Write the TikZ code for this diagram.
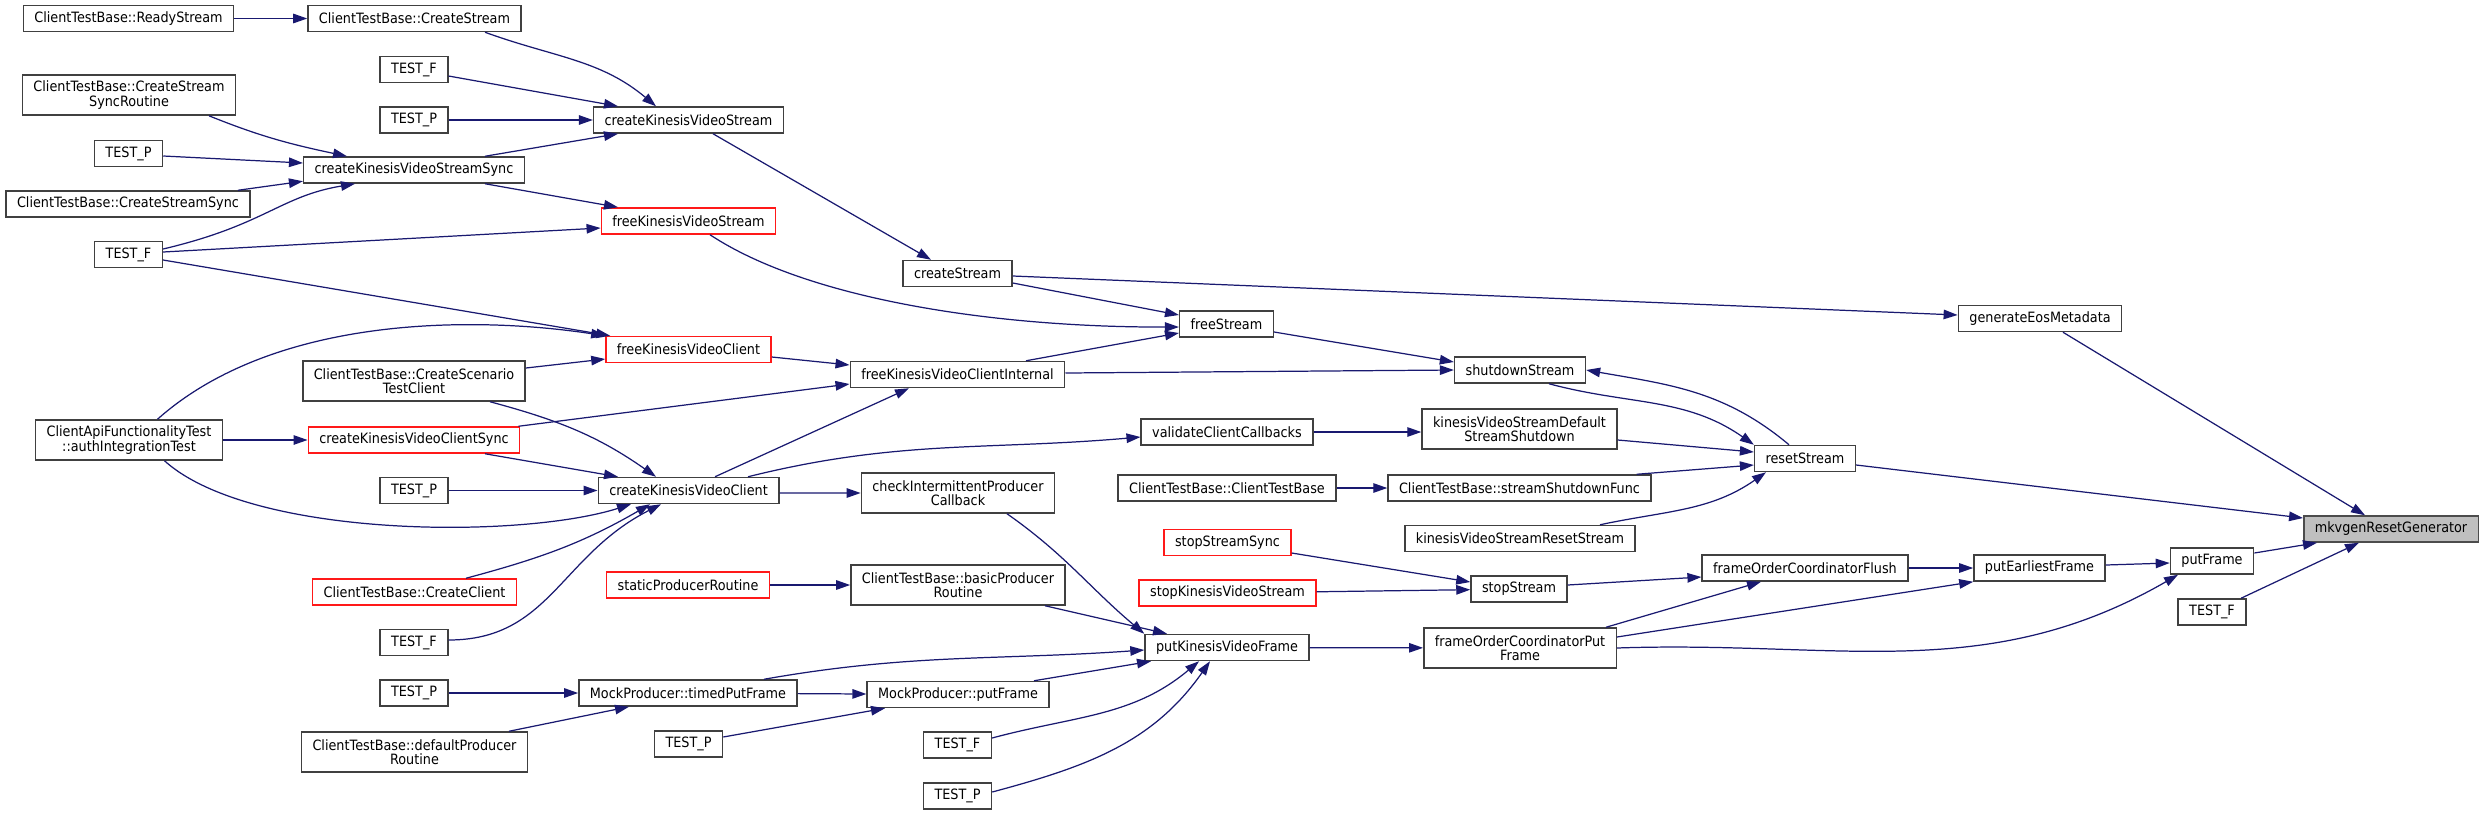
\documentclass[tikz,border=0pt]{standalone}
\usepackage{fontspec}
\setmainfont{DejaVu Sans}[FakeStretch=0.9]
\usepackage{xcolor}
\usepackage{tikz}
\usetikzlibrary{arrows.meta}
\definecolor{edgeblue}{HTML}{191970}

\begin{document}
\begin{tikzpicture}[
    box/.style={draw=black!75, fill=white, line width=0.85pt, font={\fontsize{8.1}{8.3}\selectfont}, align=center, inner xsep=0.22cm, minimum height=0.52cm},
    twobox/.style={box, minimum height=0.80cm},
    truncbox/.style={box, draw=red!90},
    rootbox/.style={box, fill=black!25, draw=black!70},
    arrow/.style={-{Triangle[length=0.28cm, width=0.19cm]}, edgeblue, line width=0.7pt}
]
    \useasboundingbox (0, 0) rectangle (49.70, -16.30);

    % Column 1: outermost callers.
    \node[box] (readystream) at (2.57, -0.37) {ClientTestBase::ReadyStream};
    \node[twobox] (syncroutine) at (2.58, -1.90) {ClientTestBase::CreateStream\\SyncRoutine};
    \node[box] (testpb) at (2.57, -3.07) {TEST\_P};
    \node[box] (streamsync) at (2.56, -4.08) {ClientTestBase::CreateStreamSync};
    \node[box] (testfb) at (2.57, -5.09) {TEST\_F};
    \node[twobox] (authtest) at (2.58, -8.80) {ClientApiFunctionalityTest\\::authIntegrationTest};

    % Column 2.
    \node[box] (tbcreatestream) at (8.29, -0.37) {ClientTestBase::CreateStream};
    \node[box] (testfa) at (8.28, -1.39) {TEST\_F};
    \node[box] (testpa) at (8.28, -2.40) {TEST\_P};
    \node[box] (createstreamsync) at (8.28, -3.40) {createKinesisVideoStreamSync};
    \node[twobox] (scenario) at (8.28, -7.62) {ClientTestBase::CreateScenario\\TestClient};
    \node[truncbox] (createclientsync) at (8.28, -8.80) {createKinesisVideoClientSync};
    \node[box] (testpc) at (8.28, -9.81) {TEST\_P};
    \node[truncbox] (tbcreateclient) at (8.29, -11.84) {ClientTestBase::CreateClient};
    \node[box] (testfc) at (8.28, -12.85) {TEST\_F};
    \node[box] (testpd) at (8.28, -13.86) {TEST\_P};
    \node[twobox] (defaultproducer) at (8.29, -15.04) {ClientTestBase::defaultProducer\\Routine};

    % Column 3.
    \node[box] (createvideostream) at (13.77, -2.40) {createKinesisVideoStream};
    \node[truncbox] (freevideostream) at (13.77, -4.42) {freeKinesisVideoStream};
    \node[truncbox] (freevideoclient) at (13.77, -6.99) {freeKinesisVideoClient};
    \node[box] (createvideoclient) at (13.77, -9.81) {createKinesisVideoClient};
    \node[truncbox] (staticproducer) at (13.76, -11.70) {staticProducerRoutine};
    \node[box] (timedputframe) at (13.76, -13.86) {MockProducer::timedPutFrame};
    \node[box] (testpe) at (13.77, -14.88) {TEST\_P};

    % Column 4.
    \node[box] (createstream) at (19.15, -5.47) {createStream};
    \node[box] (freeclientinternal) at (19.15, -7.49) {freeKinesisVideoClientInternal};
    \node[twobox] (checkproducer) at (19.16, -9.86) {checkIntermittentProducer\\Callback};
    \node[twobox] (basicproducer) at (19.16, -11.70) {ClientTestBase::basicProducer\\Routine};
    \node[box] (mockputframe) at (19.16, -13.89) {MockProducer::putFrame};
    \node[box] (testfd) at (19.15, -14.90) {TEST\_F};
    \node[box] (testpf) at (19.15, -15.92) {TEST\_P};

    % Column 5.
    \node[box] (freestream) at (24.53, -6.48) {freeStream};
    \node[box] (validatecallbacks) at (24.54, -8.64) {validateClientCallbacks};
    \node[box] (testbasector) at (24.54, -9.76) {ClientTestBase::ClientTestBase};
    \node[truncbox] (stopstreamsync) at (24.55, -10.85) {stopStreamSync};
    \node[truncbox] (stopvideostream) at (24.55, -11.86) {stopKinesisVideoStream};
    \node[box] (putvideoframe) at (24.54, -12.95) {putKinesisVideoFrame};

    % Column 6.
    \node[box] (shutdownstream) at (30.40, -7.40) {shutdownStream};
    \node[twobox] (defaultshutdown) at (30.39, -8.58) {kinesisVideoStreamDefault\\StreamShutdown};
    \node[box] (shutdownfunc) at (30.39, -9.76) {ClientTestBase::streamShutdownFunc};
    \node[box] (videoresetstream) at (30.40, -10.77) {kinesisVideoStreamResetStream};
    \node[box] (stopstream) at (30.38, -11.78) {stopStream};
    \node[twobox] (coordputframe) at (30.40, -12.96) {frameOrderCoordinatorPut\\Frame};

    % Columns 7 to 10, down to the root.
    \node[box] (resetstream) at (36.10, -9.17) {resetStream};
    \node[box] (coordflush) at (36.10, -11.36) {frameOrderCoordinatorFlush};
    \node[box] (eosmetadata) at (40.80, -6.37) {generateEosMetadata};
    \node[box] (putearliest) at (40.79, -11.36) {putEarliestFrame};
    \node[box] (putframe) at (44.24, -11.22) {putFrame};
    \node[box] (testfe) at (44.24, -12.24) {TEST\_F};
    \node[rootbox] (resetgenerator) at (47.82, -10.58) {mkvgenResetGenerator};

    % Stream creation calls.
    \draw[arrow] (readystream) -- (tbcreatestream);
    \draw[arrow] ([xshift=1.41cm]tbcreatestream.south) to[out=-20, in=140] ([xshift=-0.65cm]createvideostream.north);
    \draw[arrow] ([yshift=-0.13cm]testfa.east) -- ([xshift=-1.41cm]createvideostream.north);
    \draw[arrow] (testpa) -- (createvideostream);
    \draw[arrow] ([xshift=1.42cm]createstreamsync.north) -- ([xshift=-1.41cm]createvideostream.south);
    \draw[arrow] ([xshift=1.60cm]syncroutine.south) to[out=-22, in=168] ([xshift=-1.34cm]createstreamsync.north);
    \draw[arrow] ([yshift=-0.05cm]testpb.east) -- ([yshift=0.14cm]createstreamsync.west);
    \draw[arrow] ([xshift=2.20cm]streamsync.north) -- ([yshift=0.05cm]createstreamsync.south west);
    \draw[arrow] ([yshift=0.11cm]testfb.east) .. controls +(2.04,0.48) and +(-1.50,-0.25) .. ([xshift=-1.18cm]createstreamsync.south);
    \draw[arrow] ([xshift=1.42cm]createstreamsync.south) -- ([xshift=-1.41cm]freevideostream.north);
    \draw[arrow] ([yshift=0.05cm]testfb.east) -- ([yshift=-0.14cm]freevideostream.west);
    \draw[arrow] ([yshift=-0.11cm]testfb.east) -- ([xshift=0.10cm]freevideoclient.north west);
    \draw[arrow] ([xshift=0.57cm]authtest.north) .. controls +(2.36,2.10) and +(-2.56,0.39) .. (freevideoclient.north west);
    \draw[arrow] ([yshift=0.26cm]scenario.east) -- ([yshift=-0.19cm]freevideoclient.west);
    \draw[arrow] ([xshift=0.49cm]createvideostream.south) -- ([xshift=-0.53cm]createstream.north);
    \draw[arrow] ([xshift=0.43cm]freevideostream.south) .. controls +(2.00,-1.32) and +(-3.58,-0.01) .. ([yshift=-0.06cm]freestream.west);
    \draw[arrow] ([yshift=-0.19cm]createstream.east) -- ([yshift=0.18cm]freestream.west);
    \draw[arrow] ([yshift=-0.05cm]createstream.east) -- ([yshift=0.07cm]eosmetadata.west);

    % Client creation and teardown calls.
    \draw[arrow] ([yshift=-0.15cm]freevideoclient.east) -- ([yshift=0.19cm]freeclientinternal.west);
    \draw[arrow] ([xshift=-0.04cm]createclientsync.north east) -- ([yshift=-0.19cm]freeclientinternal.west);
    \draw[arrow] ([xshift=0.53cm]createvideoclient.north) -- ([xshift=-0.97cm]freeclientinternal.south);
    \draw[arrow] ([xshift=1.37cm]freeclientinternal.north) -- ([yshift=-0.18cm]freestream.west);
    \draw[arrow] ([yshift=0.03cm]freeclientinternal.east) -- (shutdownstream.west);
    \draw[arrow] ([yshift=-0.16cm]freestream.east) -- ([yshift=0.16cm]shutdownstream.west);
    \draw[arrow] (authtest) -- (createclientsync);
    \draw[arrow] ([xshift=1.52cm]scenario.south) to[out=-15, in=145] ([xshift=-0.65cm]createvideoclient.north);
    \draw[arrow] ([xshift=1.42cm]createclientsync.south) -- ([xshift=-1.41cm]createvideoclient.north);
    \draw[arrow] (testpc) -- (createvideoclient);
    \draw[arrow] ([xshift=0.71cm]authtest.south) .. controls +(1.72,-1.55) and +(-2.22,-0.70) .. ([xshift=-1.15cm]createvideoclient.south);
    \draw[arrow] ([xshift=1.03cm]tbcreateclient.north) to[out=15, in=-150] ([xshift=-0.77cm]createvideoclient.south);
    \draw[arrow] ([yshift=0.05cm]testfc.east) .. controls +(2.02,0.00) and +(-2.02,-1.03) .. ([xshift=-0.55cm]createvideoclient.south);
    \draw[arrow] ([xshift=1.19cm]createvideoclient.north) to[out=14, in=185] ([yshift=-0.10cm]validatecallbacks.west);
    \draw[arrow] ([yshift=-0.05cm]createvideoclient.east) -- (checkproducer.west);

    % Shutdown and reset calls.
    \draw[arrow] (validatecallbacks.east) -- (validatecallbacks.east -| defaultshutdown.west);
    \draw[arrow] ([yshift=-0.22cm]defaultshutdown.east) -- ([yshift=0.13cm]resetstream.west);
    \draw[arrow] (testbasector) -- (shutdownfunc);
    \draw[arrow] ([xshift=-0.30cm]shutdownfunc.north east) -- ([yshift=-0.13cm]resetstream.west);
    \draw[arrow] ([xshift=1.60cm]videoresetstream.north) to[out=12, in=-145] ([xshift=-0.78cm]resetstream.south);
    \draw[arrow] ([xshift=0.58cm]shutdownstream.south) to[out=-15, in=145] (resetstream.north west);
    \draw[arrow] ([xshift=-0.32cm]resetstream.north) to[out=140, in=-10] (shutdownstream.east);
    \draw[arrow] ([yshift=-0.13cm]resetstream.east) -- ([yshift=0.22cm]resetgenerator.west);
    \draw[arrow] ([xshift=0.46cm]eosmetadata.south) -- ([xshift=-0.52cm]resetgenerator.north);
    \draw[arrow] ([yshift=0.16cm]putframe.east) -- ([xshift=-1.48cm]resetgenerator.south);
    \draw[arrow] ([xshift=0.58cm]testfe.north) -- ([xshift=-0.64cm]resetgenerator.south);

    % Frame producing calls.
    \draw[arrow] ([xshift=0.98cm]checkproducer.south) to[out=-35, in=140] (putvideoframe.north west);
    \draw[arrow] (staticproducer) -- (basicproducer);
    \draw[arrow] ([xshift=1.74cm]basicproducer.south) -- ([xshift=-1.20cm]putvideoframe.north);
    \draw[arrow] ([xshift=1.52cm]timedputframe.north) to[out=10, in=184] ([yshift=-0.05cm]putvideoframe.west);
    \draw[arrow] ([xshift=1.52cm]mockputframe.north) -- ([xshift=-1.52cm]putvideoframe.south);
    \draw[arrow] ([yshift=0.14cm]testfd.east) to[out=15, in=-140] ([xshift=-0.56cm]putvideoframe.south);
    \draw[arrow] ([yshift=0.08cm]testpf.east) to[out=15, in=-125] ([xshift=-0.34cm]putvideoframe.south);
    \draw[arrow] (testpd) -- (timedputframe);
    \draw[arrow] ([xshift=1.89cm]defaultproducer.north) -- ([xshift=-1.18cm]timedputframe.south);
    \draw[arrow] (timedputframe) -- (mockputframe);
    \draw[arrow] ([yshift=0.14cm]testpe.east) -- ([xshift=-1.46cm]mockputframe.south);
    \draw[arrow] (putvideoframe) -- (coordputframe);
    \draw[arrow] ([yshift=-0.21cm]stopstreamsync.east) -- ([yshift=0.14cm]stopstream.west);
    \draw[arrow] (stopvideostream) -- (stopstream);
    \draw[arrow] ([yshift=0.08cm]stopstream.east) -- ([yshift=-0.18cm]coordflush.west);
    \draw[arrow] ([xshift=1.72cm]coordputframe.north) -- ([xshift=-0.88cm]coordflush.south);
    \draw[arrow] (coordflush) -- (putearliest);
    \draw[arrow] ([yshift=0.22cm]coordputframe.east) -- (putearliest.south west);
    \draw[arrow] ([yshift=0.06cm]putearliest.east) -- ([yshift=-0.04cm]putframe.west);
    \draw[arrow] (coordputframe.east) to[out=2, in=-150] ([xshift=-0.68cm]putframe.south);

\end{tikzpicture}
\end{document}
